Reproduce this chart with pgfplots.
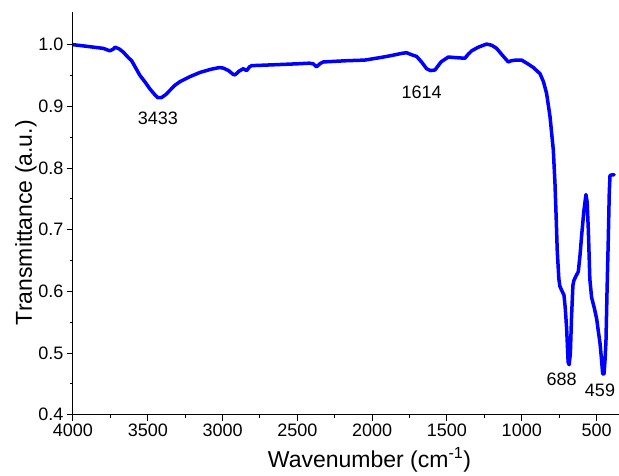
\documentclass[border=0pt]{standalone}
\usepackage{fontspec}
\setmainfont{Liberation Sans}
\usepackage{pgfplots}
\pgfplotsset{compat=1.18}
\begin{document}
\begin{tikzpicture}
\begin{axis}[
  scale only axis,
  width=546bp, height=402.7bp,
  x dir=reverse,
  xmin=350, xmax=4000,
  ymin=0.4, ymax=1.053,
  axis x line*=bottom,
  axis y line*=left,
  axis line style={-, line width=1bp, black},
  xtick={500,1000,...,4000},
  ytick={0.4,0.5,...,1.0},
  minor x tick num=1,
  minor y tick num=1,
  tick align=outside,
  major tick length=6bp,
  minor tick length=3bp,
  tick style={line width=1bp, black},
  /pgf/number format/assume math mode=true,
  /pgf/number format/1000 sep={},
  yticklabel style={/pgf/number format/fixed, /pgf/number format/fixed zerofill, /pgf/number format/precision=1},
  ticklabel style={font=\fontsize{18bp}{20bp}\selectfont},
  xlabel={Wavenumber (cm\textsuperscript{-1})},
  ylabel={Transmittance (a.u.)},
  label style={font=\fontsize{23bp}{26bp}\selectfont},
  xlabel style={at={(axis description cs:0.543,-0.131)}, anchor=base, inner sep=0pt},
  ylabel style={at={(axis description cs:-0.0751,0.477)}, anchor=base, inner sep=0pt},
]
\addplot[color={rgb,255:red,0;green,0;blue,255}, line width=3.5bp, line join=round, line cap=round] coordinates {
(4000,1.000) (3930,0.998) (3864,0.996) (3797,0.994) (3753,0.990) (3730,0.993) (3719,0.996) (3690,0.993)
(3664,0.988) (3630,0.979) (3608,0.974) (3580,0.962) (3552,0.950) (3520,0.940) (3485,0.928) (3450,0.918)
(3433,0.914) (3410,0.914) (3380,0.919) (3352,0.926) (3320,0.934) (3285,0.940) (3220,0.948) (3151,0.955)
(3080,0.960) (3020,0.963) (2995,0.962) (2960,0.958) (2930,0.952) (2917,0.951) (2890,0.957) (2862,0.961)
(2839,0.958) (2820,0.964) (2806,0.966) (2700,0.967) (2600,0.968) (2500,0.969) (2420,0.970) (2394,0.969)
(2372,0.964) (2350,0.969) (2327,0.972) (2250,0.973) (2171,0.974) (2050,0.975) (1948,0.979) (1880,0.982)
(1800,0.986) (1770,0.987) (1740,0.984) (1703,0.981) (1670,0.972) (1636,0.961) (1610,0.958) (1580,0.959)
(1540,0.972) (1491,0.980) (1440,0.979) (1380,0.978) (1360,0.984) (1335,0.990) (1290,0.996) (1235,1.001)
(1200,0.999) (1168,0.994) (1130,0.983) (1090,0.972) (1070,0.974) (1040,0.975) (1001,0.975) (960,0.969)
(923,0.963) (878,0.953) (855,0.940) (834,0.921) (811,0.883) (789,0.829) (778,0.775) (770,0.720)
(763,0.667) (752,0.620) (745,0.608) (730,0.600) (718,0.594) (710,0.575) (700,0.540) (690,0.485)
(683,0.481) (675,0.500) (667,0.560) (658,0.610) (651,0.618) (635,0.626) (622,0.632) (610,0.660)
(600,0.690) (585,0.730) (571,0.757) (563,0.745) (555,0.700) (545,0.620) (533,0.590) (515,0.573)
(499,0.555) (488,0.535) (477,0.516) (467,0.490) (459,0.466) (450,0.466) (443,0.490) (437,0.520)
(430,0.600) (422,0.680) (415,0.760) (410,0.788) (395,0.789) (383,0.789)
};
\node[font=\fontsize{18bp}{20bp}\selectfont] at (axis cs:3432,0.881) {3433};
\node[font=\fontsize{18bp}{20bp}\selectfont] at (axis cs:1669,0.9235) {1614};
\node[font=\fontsize{18bp}{20bp}\selectfont] at (axis cs:733,0.457) {688};
\node[font=\fontsize{18bp}{20bp}\selectfont] at (axis cs:477,0.439) {459};
\end{axis}
\pgfresetboundingbox
\path (current axis.south west) ++(-73bp,-61.3bp) rectangle ++(619bp,476bp);
\end{tikzpicture}
\end{document}
